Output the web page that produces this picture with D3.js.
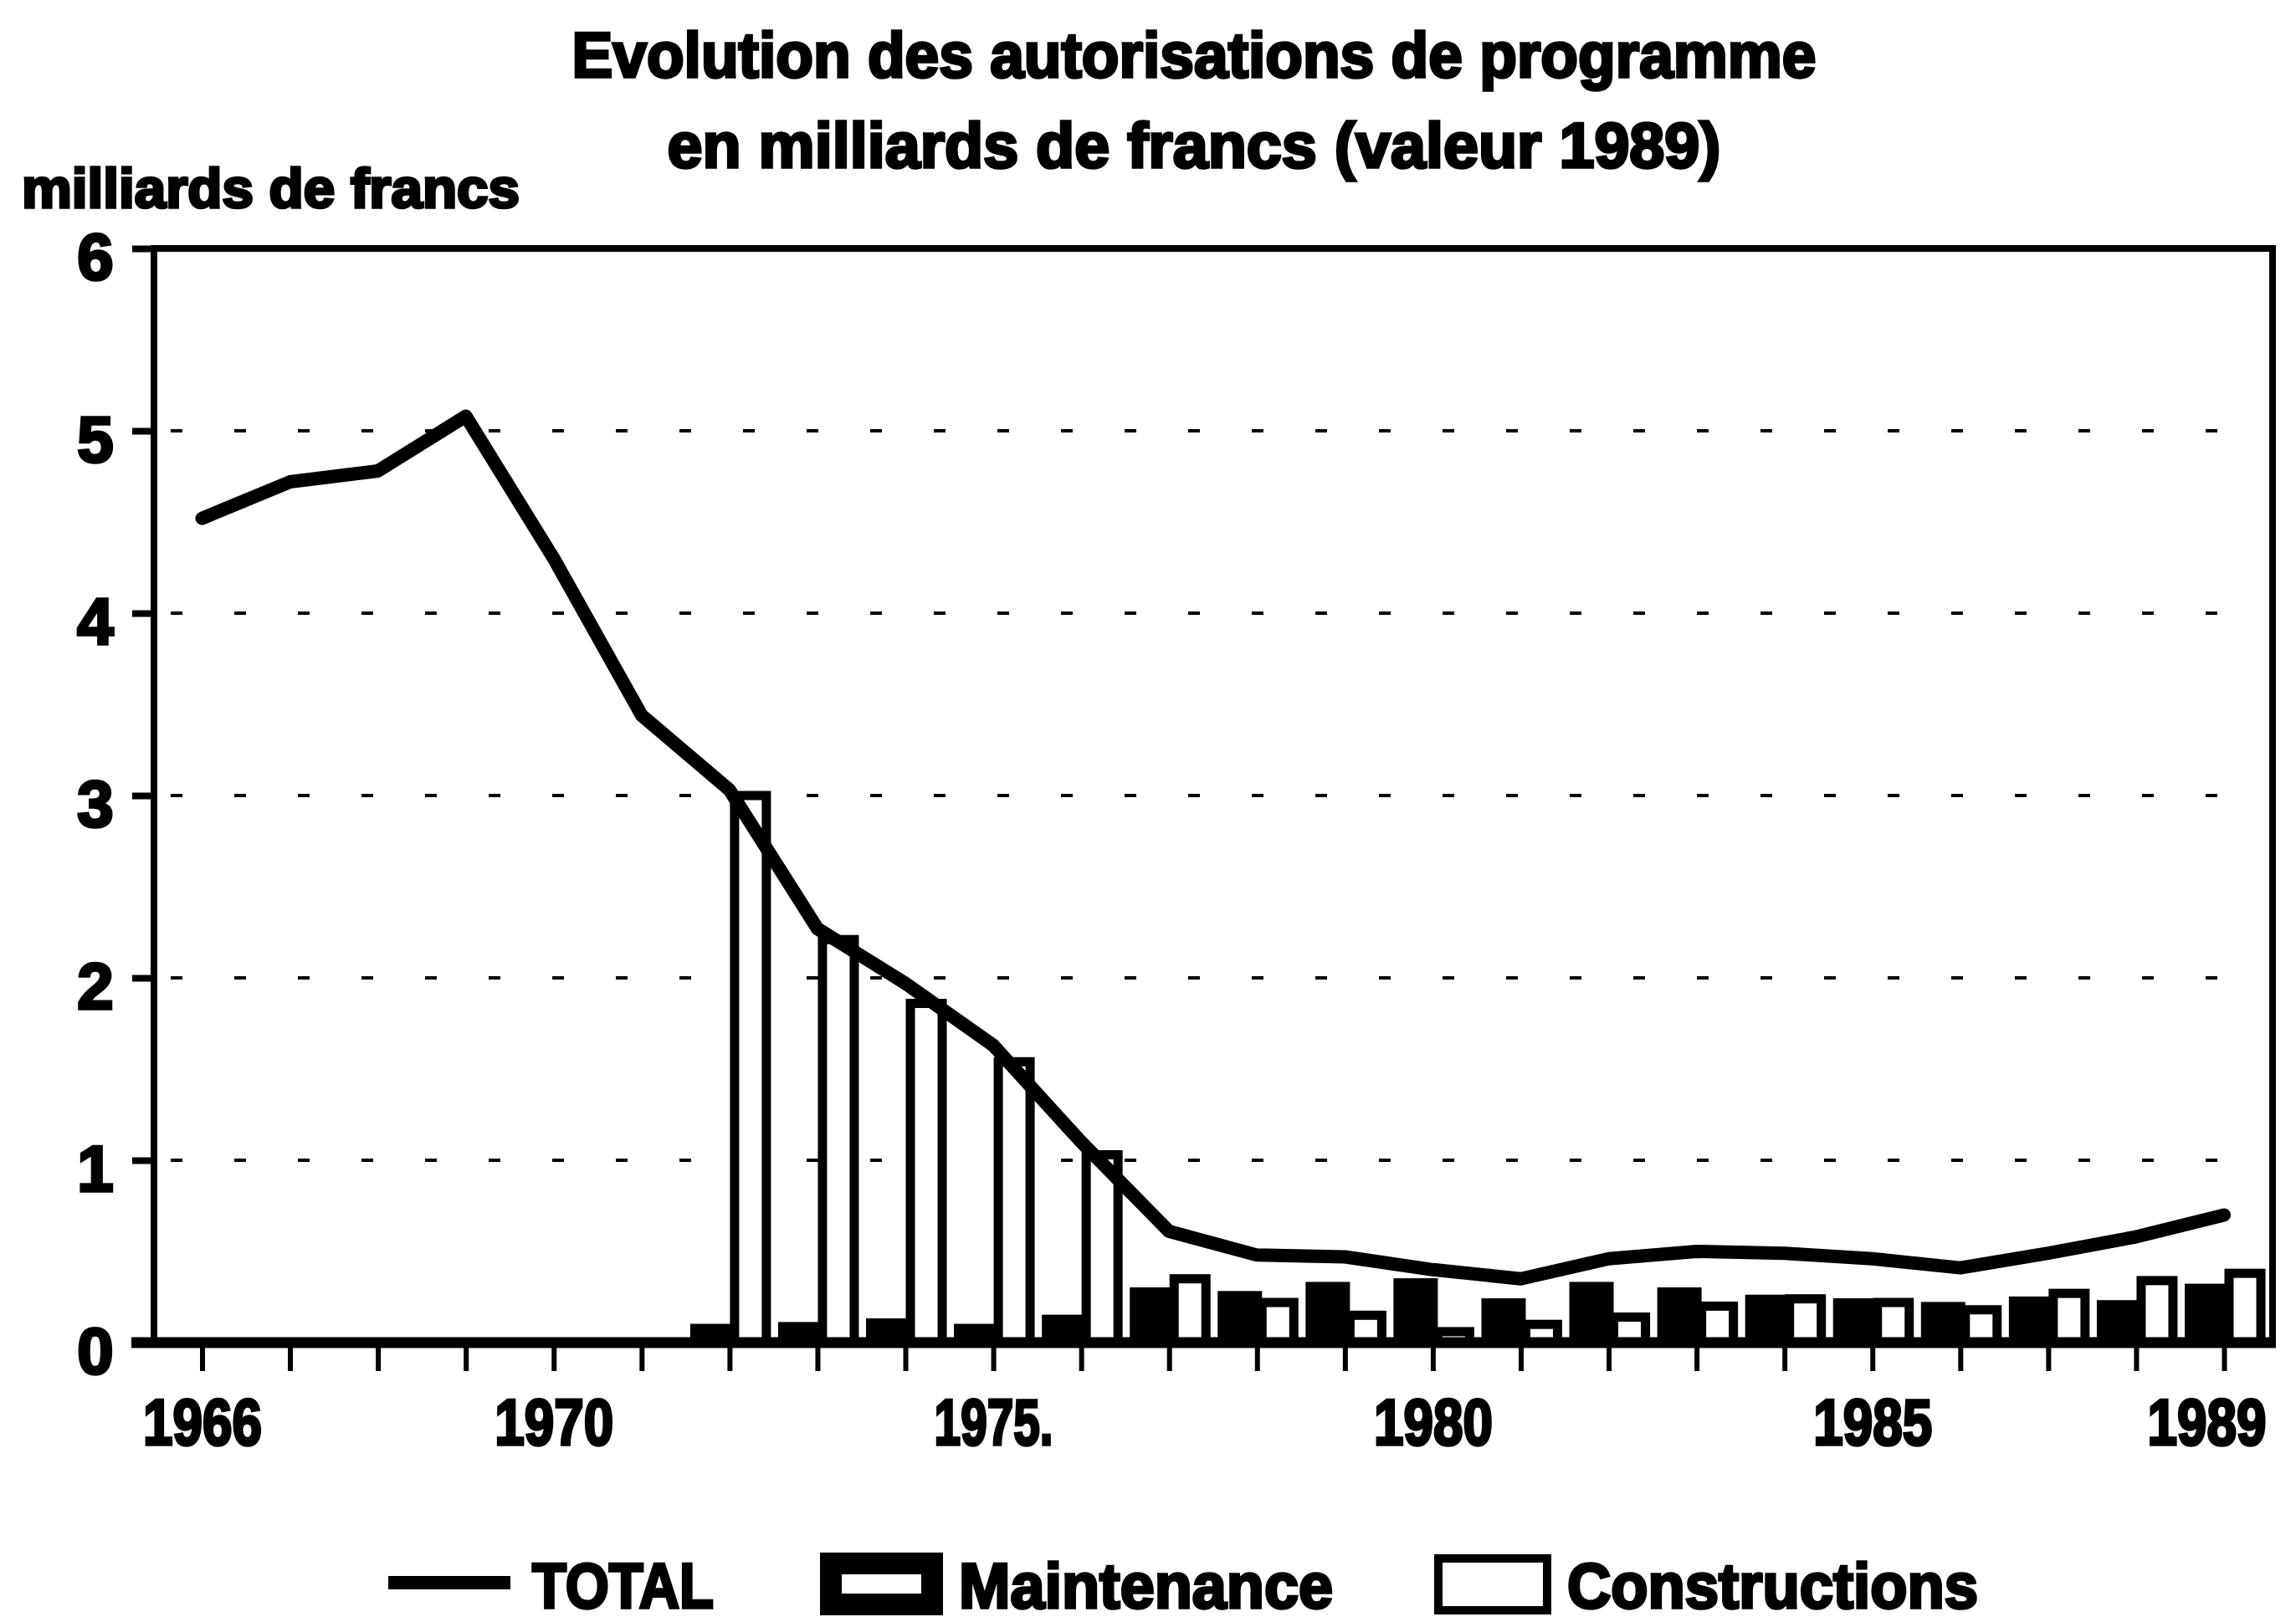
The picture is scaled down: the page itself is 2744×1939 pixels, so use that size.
<!DOCTYPE html>
<head>
  <meta charset="utf-8">
  <script src="https://d3js.org/d3.v7.min.js"></script>
  <style>
    body{ margin: 0; background: #fff; }
    text{
      font-family: "Liberation Sans", Arial, sans-serif;
      font-weight: 700;
      fill: #000;
      stroke: #000;
      stroke-width: 3.5px;
    }
    .domain{ display: none; }
  </style>
</head>
<body>
<script>
  // values (milliards de francs, valeur 1989)
  const years = [1966, 1967, 1968, 1969, 1970, 1971, 1972, 1973, 1974, 1975, 1976, 1977,
                 1978, 1979, 1980, 1981, 1982, 1983, 1984, 1985, 1986, 1987, 1988, 1989];
  const total = [4.52, 4.72, 4.78, 5.08, 4.30, 3.44, 3.03, 2.27, 1.97, 1.63, 1.10, 0.61,
                 0.48, 0.47, 0.40, 0.35, 0.46, 0.50, 0.49, 0.46, 0.41, 0.49, 0.58, 0.70];
  const maintenance = [null, null, null, null, null, null, 0.08, 0.09, 0.11, 0.08, 0.13, 0.28,
                       0.26, 0.31, 0.33, 0.22, 0.31, 0.28, 0.24, 0.22, 0.20, 0.23, 0.21, 0.30];
  const constructions = [null, null, null, null, null, null, 3.00, 2.21, 1.86, 1.54, 1.03, 0.35,
                         0.22, 0.15, 0.06, 0.10, 0.14, 0.20, 0.24, 0.22, 0.18, 0.27, 0.34, 0.38];
  const yTicks = [0, 1, 2, 3, 4, 5, 6];
  const gridValues = [1, 2, 3, 4, 5];
  const xLabels = {1966: "1966", 1970: "1970", 1975: "1975.", 1980: "1980", 1985: "1985", 1989: "1989"};
  const titleLines = ["Evolution des autorisations de programme", "en milliards de francs (valeur 1989)"];
  const yTitle = "milliards de francs";

  const width = 2744, height = 1939;
  const plotLeft = 184, plotRight = 2716, plotTop = 297, plotBottom = 1605;

  const svg = d3.select("body").append("svg")
    .attr("width", width)
    .attr("height", height);

  svg.append("rect").attr("width", width).attr("height", height).attr("fill", "#fff").attr("stroke", "none");

  const x = d3.scaleLinear().domain([1966, 1989]).range([241.5, 2658]);
  const y = d3.scaleLinear().domain([0, 6]).range([plotBottom, plotTop]);

  // two bars per year: maintenance left of the tick, constructions right of it
  const sub = d3.scaleBand().domain(["maintenance", "constructions"]).range([-42, 44]).padding(0);

  const rows = years.map((yr, i) => ({year: yr, total: total[i], maintenance: maintenance[i], constructions: constructions[i]}));

  // titles
  const titleLen = [1487, 1259];
  svg.selectAll("text.title")
    .data(titleLines)
    .enter().append("text")
    .attr("class", "title")
    .attr("x", 1427)
    .attr("y", (d, i) => i ? 200 : 92)
    .attr("text-anchor", "middle")
    .attr("font-size", 76)
    .attr("textLength", (d, i) => titleLen[i])
    .attr("lengthAdjust", "spacingAndGlyphs")
    .text(d => d);

  svg.append("text")
    .attr("x", 26).attr("y", 248)
    .attr("font-size", 66)
    .attr("textLength", 595)
    .attr("lengthAdjust", "spacingAndGlyphs")
    .text(yTitle);

  // broken dashed grid lines
  svg.selectAll("line.grid")
    .data(gridValues)
    .enter().append("line")
    .attr("class", "grid")
    .attr("x1", plotLeft + 20).attr("x2", plotRight - 20)
    .attr("y1", d => y(d)).attr("y2", d => y(d))
    .attr("stroke", "#000")
    .attr("stroke-width", 4)
    .attr("stroke-dasharray", "14 62");

  // bars
  const groups = svg.selectAll("g.year")
    .data(rows.filter(d => d.maintenance != null))
    .enter().append("g")
    .attr("class", "year")
    .attr("transform", d => `translate(${x(d.year)},0)`);

  groups.append("rect")
    .attr("x", sub("maintenance"))
    .attr("width", sub.bandwidth())
    .attr("y", d => y(d.maintenance))
    .attr("height", d => y(0) - y(d.maintenance))
    .attr("fill", "#000")
    .attr("stroke", "#000")
    .attr("stroke-width", 10);

  groups.append("rect")
    .attr("x", sub("constructions") + 5)
    .attr("width", sub.bandwidth() - 5)
    .attr("y", d => y(d.constructions))
    .attr("height", d => y(0) - y(d.constructions))
    .attr("fill", "#fff")
    .attr("stroke", "#000")
    .attr("stroke-width", 11);

  // total line
  const line = d3.line().x(d => x(d.year)).y(d => y(d.total));
  svg.append("path")
    .datum(rows)
    .attr("d", line)
    .attr("fill", "none")
    .attr("stroke", "#000")
    .attr("stroke-width", 16)
    .attr("stroke-linejoin", "round")
    .attr("stroke-linecap", "round");

  // frame
  svg.append("path")
    .attr("d", `M${plotLeft},${plotBottom}V${plotTop}H${plotRight}V${plotBottom}`)
    .attr("fill", "none")
    .attr("stroke", "#000")
    .attr("stroke-width", 8);

  // y axis
  const yAxis = svg.append("g")
    .attr("transform", `translate(${plotLeft},0)`)
    .call(d3.axisLeft(y).tickValues(yTicks).tickSize(26).tickFormat(d3.format("d")));
  yAxis.selectAll(".tick line").attr("stroke", "#000").attr("stroke-width", 8);
  yAxis.selectAll(".tick text")
    .attr("x", -70).attr("dy", null).attr("y", 36)
    .attr("text-anchor", "middle")
    .attr("font-size", 78);

  // x axis
  const xAxis = svg.append("g")
    .attr("transform", `translate(0,${plotBottom})`)
    .call(d3.axisBottom(x).tickValues(years).tickSize(34).tickFormat(d => xLabels[d] || ""));
  xAxis.selectAll(".tick line").attr("stroke", "#000").attr("stroke-width", 6);
  xAxis.selectAll(".tick text")
    .attr("dy", null).attr("y", 122)
    .attr("font-size", 78)
    .attr("textLength", d => xLabels[d] ? 142 : null)
    .attr("lengthAdjust", "spacingAndGlyphs");
  // last label pushed against the right edge, as in the original
  xAxis.selectAll(".tick text")
    .filter(d => d === 1989)
    .attr("text-anchor", "end")
    .attr("x", 50);

  svg.append("line")
    .attr("x1", 157).attr("x2", plotRight + 4)
    .attr("y1", plotBottom).attr("y2", plotBottom)
    .attr("stroke", "#000")
    .attr("stroke-width", 13);

  // legend
  const lg = svg.append("g");
  lg.append("line")
    .attr("x1", 464).attr("x2", 610).attr("y1", 1892).attr("y2", 1892)
    .attr("stroke", "#000").attr("stroke-width", 16);
  lg.append("rect")
    .attr("x", 993).attr("y", 1869).attr("width", 121).attr("height", 49)
    .attr("fill", "#fff").attr("stroke", "#000").attr("stroke-width", 26);
  lg.append("rect")
    .attr("x", 1719).attr("y", 1863).attr("width", 130).attr("height", 62)
    .attr("fill", "#fff").attr("stroke", "#000").attr("stroke-width", 10);

  const legendText = [
    {label: "TOTAL", x: 636, len: 217},
    {label: "Maintenance", x: 1146, len: 447},
    {label: "Constructions", x: 1873, len: 491}
  ];
  lg.selectAll("text")
    .data(legendText)
    .enter().append("text")
    .attr("x", d => d.x)
    .attr("y", 1922)
    .attr("font-size", 76)
    .attr("textLength", d => d.len)
    .attr("lengthAdjust", "spacingAndGlyphs")
    .text(d => d.label);
</script>
</body>
